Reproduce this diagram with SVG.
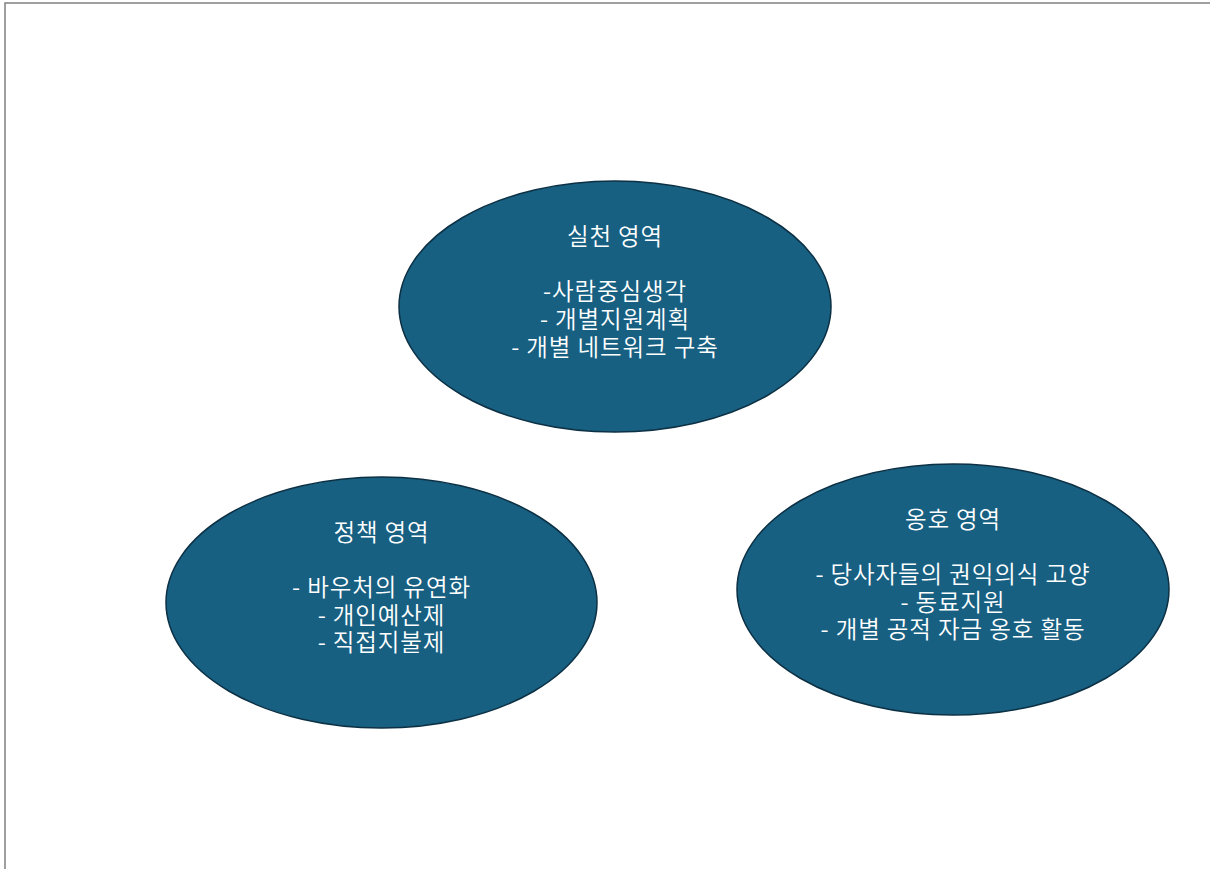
<svg xmlns="http://www.w3.org/2000/svg" width="1210" height="869" viewBox="0 0 1210 869">
<style>
.node ellipse{fill:#186082;stroke:#0c3044;stroke-width:1.5}
.node text{fill:#ffffff;font-family:"Noto Sans CJK KR","Noto Sans",sans-serif;font-size:23.5px;font-weight:350;letter-spacing:0.9px;text-anchor:middle}
.frame{stroke:#808080;stroke-width:1.5;fill:none}
</style>
<rect width="1210" height="869" fill="#ffffff"/>
<path class="frame" d="M5,869 V3 H1210"/>
<g id="connectors"></g>
<g id="practice" class="node">
<ellipse cx="615" cy="306.5" rx="216" ry="125.5"/>
<text x="615" y="245">실천 영역</text>
<text x="615" y="300">-사람중심생각</text>
<text x="615" y="328">- 개별지원계획</text>
<text x="615" y="356">- 개별 네트워크 구축</text>
</g>
<g id="policy" class="node">
<ellipse cx="381.5" cy="602.5" rx="215.5" ry="125.5"/>
<text x="381.5" y="541">정책 영역</text>
<text x="381.5" y="596">- 바우처의 유연화</text>
<text x="381.5" y="624">- 개인예산제</text>
<text x="381.5" y="651">- 직접지불제</text>
</g>
<g id="advocacy" class="node">
<ellipse cx="953" cy="589.5" rx="216" ry="125.5"/>
<text x="953" y="528">옹호 영역</text>
<text x="953" y="583">- 당사자들의 권익의식 고양</text>
<text x="953" y="611">- 동료지원</text>
<text x="953" y="638">- 개별 공적 자금 옹호 활동</text>
</g>
</svg>
